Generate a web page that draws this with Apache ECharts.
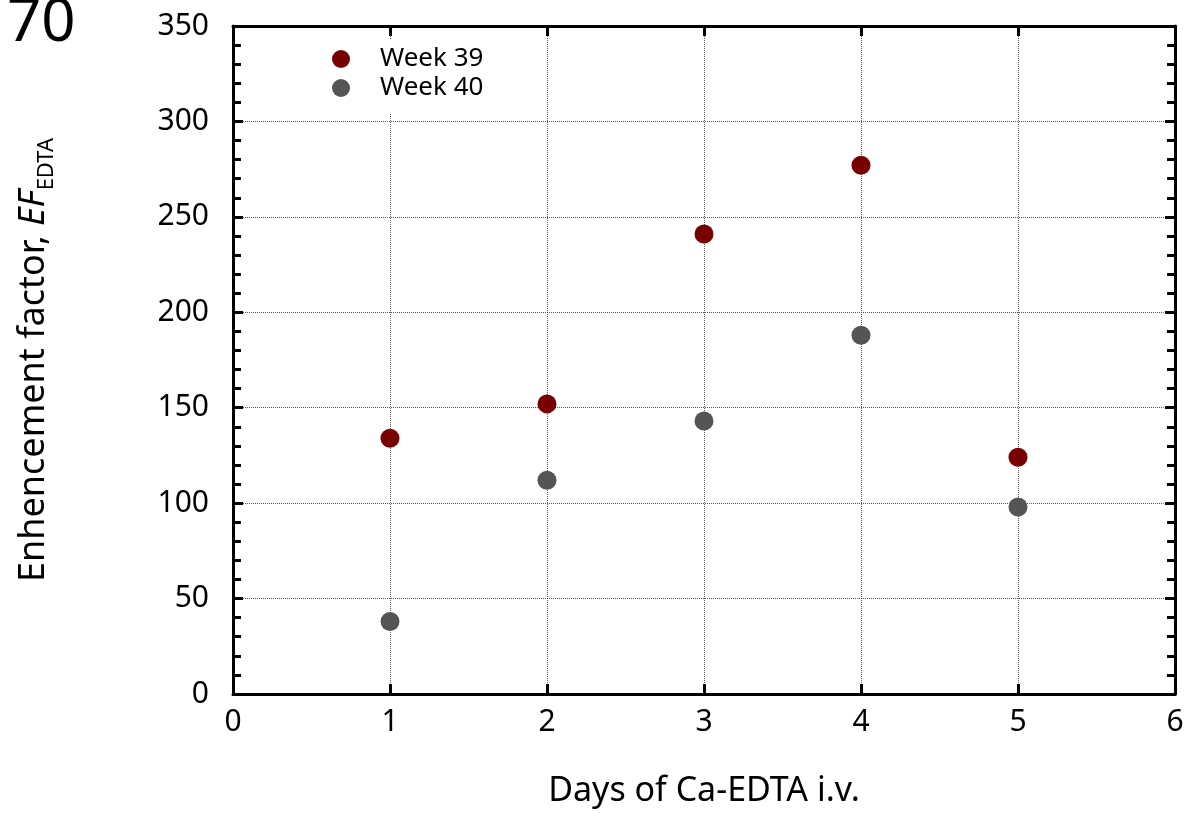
<!DOCTYPE html>
<html>
<head>
<meta charset="utf-8">
<script src="https://cdn.jsdelivr.net/npm/echarts@6/dist/echarts.min.js"></script>
<style>html,body{margin:0;padding:0;background:#fff}#c{width:1188px;height:813px}</style>
</head>
<body>
<div id="c"></div>
<script>
const days = [1, 2, 3, 4, 5];
const week39 = [134, 152, 241, 277, 124];
const week40 = [38, 112, 143, 188, 98];
const seriesNames = ['Week 39', 'Week 40'];
const xTicks = [0, 1, 2, 3, 4, 5, 6];
const yTicks = [0, 50, 100, 150, 200, 250, 300, 350];

const FONT = '"Noto Sans", sans-serif';
const chart = echarts.init(document.getElementById('c'));
const gridLine = { show: true, lineStyle: { color: '#5a5a5a', type: [1, 1], width: 1 } };
const axisLineStyle = { show: true, onZero: false, lineStyle: { color: '#000', width: 3 } };
const tick = { show: true, inside: true, length: 10, lineStyle: { color: '#000', width: 3 } };
const minor = { show: true, splitNumber: 5, length: 8, lineStyle: { color: '#000', width: 3 } };
chart.setOption({
  animation: false,
  backgroundColor: '#fff',
  title: { text: '70', left: 2, top: -11, textStyle: { fontFamily: FONT, fontWeight: 'normal', fontSize: 60, color: '#000' } },
  legend: {
    data: seriesNames, orient: 'vertical', left: 322, top: 40,
    itemWidth: 18, itemHeight: 18, itemGap: 3,
    backgroundColor: '#fff', padding: [6, 20, 12, 10],
    textStyle: { fontFamily: FONT, fontSize: 26, lineHeight: 26, color: '#000', padding: [0, 0, 0, 25] }
  },
  grid: { left: 233, right: 13, top: 26, bottom: 116, containLabel: false },
  xAxis: [{
    type: 'value', min: xTicks[0], max: xTicks[xTicks.length - 1], interval: 1,
    name: 'Days of Ca-EDTA i.v.', nameLocation: 'middle', nameGap: 80,
    nameTextStyle: { fontFamily: FONT, fontSize: 34, color: '#000' },
    axisLine: axisLineStyle, axisTick: tick,
    axisLabel: { fontFamily: FONT, fontSize: 30, color: '#000', margin: 13 },
    splitLine: gridLine
  }, {
    type: 'value', position: 'top', min: 0, max: 6, interval: 1,
    axisLine: axisLineStyle, axisTick: tick,
    axisLabel: { show: false }, splitLine: { show: false }
  }],
  yAxis: [{
    type: 'value', min: yTicks[0], max: yTicks[yTicks.length - 1], interval: 50,
    name: '{n|Enhencement factor, }{i|EF}{s|EDTA}', nameLocation: 'middle', nameGap: 175, nameRotate: 90,
    nameTextStyle: { rich: {
      n: { fontFamily: FONT, fontSize: 36, color: '#000' },
      i: { fontFamily: FONT, fontSize: 36, color: '#000', fontStyle: 'italic' },
      s: { fontFamily: FONT, fontSize: 22, color: '#000', verticalAlign: 'bottom', padding: [26, 0, 0, 0] }
    } },
    axisLine: axisLineStyle, axisTick: tick, minorTick: minor,
    axisLabel: { fontFamily: FONT, fontSize: 30, color: '#000', margin: 24 },
    splitLine: gridLine
  }, {
    type: 'value', position: 'right', min: 0, max: 350, interval: 50,
    axisLine: axisLineStyle, axisTick: tick, minorTick: minor,
    axisLabel: { show: false }, splitLine: { show: false }
  }],
  series: [{
    name: seriesNames[0], type: 'scatter', symbolSize: 19, z: 5,
    itemStyle: { color: '#780000', opacity: 1 },
    data: days.map((d, i) => [d, week39[i]])
  }, {
    name: seriesNames[1], type: 'scatter', symbolSize: 19, z: 5,
    itemStyle: { color: '#555555', opacity: 1 },
    data: days.map((d, i) => [d, week40[i]])
  }]
});
</script>
</body>
</html>
